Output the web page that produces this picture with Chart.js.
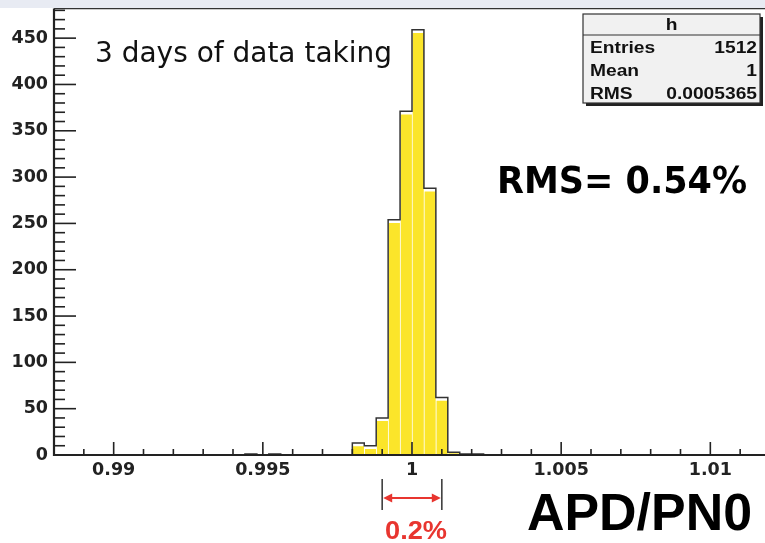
<!DOCTYPE html>
<html>
<head>
<meta charset="utf-8">
<title>APD/PN0</title>
<script src="https://cdn.jsdelivr.net/npm/chart.js@4/dist/chart.umd.min.js"></script>
<style>
  html, body { margin: 0; padding: 0; background: #fff; overflow: hidden; }
  #wrap { width: 770px; height: 543px; }
</style>
</head>
<body>
<div id="wrap"><canvas id="apd" width="770" height="543"></canvas></div>
<script>
// histogram binning
var binLow = 0.988;
var binHigh = 1.012;
var binWidth = 0.0004;

// left edges of the non-empty bins and their contents
var filledBinEdges = [0.9944, 0.9952, 0.998, 0.9984, 0.9988, 0.9992, 0.9996, 1.0, 1.0004, 1.0008, 1.0012, 1.0016, 1.002];
var filledBinCounts = [1, 1, 13, 10, 40, 254, 371, 459, 288, 62, 3, 1, 1];

var xTickValues = [0.99, 0.995, 1, 1.005, 1.01];
var xTickLabels = ["0.99", "0.995", "1", "1.005", "1.01"];
var yTickValues = [0, 50, 100, 150, 200, 250, 300, 350, 400, 450];
var yMax = 482;

var statsTitle = "h";
var statsNames = ["Entries", "Mean", "RMS"];
var statsValues = ["1512", "1", "0.0005365"];

// +-0.1% marker around the mean
var spreadLow = 0.999;
var spreadHigh = 1.001;

function ready() {
  var nBins = Math.round((binHigh - binLow) / binWidth);
  var counts = [];
  for (var i = 0; i < nBins; i++) counts.push(0);
  filledBinEdges.forEach(function (e, k) {
    counts[Math.round((e - binLow) / binWidth)] = filledBinCounts[k];
  });

  var barData = filledBinEdges.map(function (e, k) {
    return { x: e + binWidth / 2, y: filledBinCounts[k] };
  });

  // step outline over the whole range, like ROOT draws it
  var outline = counts.map(function (c, i) {
    return { x: binLow + i * binWidth, y: c };
  });
  outline.push({ x: binHigh, y: counts[nBins - 1] });

  function drawText(ctx, str, x, y, font, color, align, sx) {
    ctx.save();
    ctx.font = font;
    ctx.fillStyle = color;
    ctx.textAlign = align || 'left';
    ctx.textBaseline = 'alphabetic';
    ctx.translate(x, y);
    ctx.scale(sx || 1, 1);
    ctx.fillText(str, 0, 0);
    ctx.restore();
  }

  function fitText(ctx, str, x, y, font, color, width) {
    ctx.save();
    ctx.font = font;
    var w = ctx.measureText(str).width;
    ctx.restore();
    drawText(ctx, str, x, y, font, color, 'left', width / w);
  }

  var frame = {
    id: 'frame',
    afterDatasetsDraw: function (chart) {
      var ctx = chart.ctx, a = chart.chartArea;
      var xs = chart.scales.x, ys = chart.scales.y;
      ctx.save();
      ctx.strokeStyle = '#222';
      ctx.lineWidth = 1.6;
      // x ticks, pointing up into the frame
      for (var k = 988; k <= 1012; k++) {
        var px = xs.getPixelForValue(k / 1000);
        var len = (k % 5 === 0) ? 13 : 6;
        ctx.beginPath();
        ctx.moveTo(px, a.bottom);
        ctx.lineTo(px, a.bottom - len);
        ctx.stroke();
      }
      // y ticks, pointing right into the frame
      for (var m = 0; m <= 480; m += 10) {
        var py = ys.getPixelForValue(m);
        var l2 = (m % 50 === 0) ? 22 : 11;
        ctx.beginPath();
        ctx.moveTo(a.left, py);
        ctx.lineTo(a.left + l2, py);
        ctx.stroke();
      }
      ctx.lineWidth = 2.2;
      ctx.beginPath();
      ctx.moveTo(a.left, a.top);
      ctx.lineTo(a.left, a.bottom);
      ctx.lineTo(a.right, a.bottom);
      ctx.stroke();
      ctx.lineWidth = 1.5;
      ctx.strokeStyle = '#333';
      ctx.beginPath();
      ctx.moveTo(a.left, a.top);
      ctx.lineTo(a.right, a.top);
      ctx.stroke();
      ctx.restore();
    },
    afterDraw: function (chart) {
      var ctx = chart.ctx;
      var xs = chart.scales.x;
      ctx.save();
      ctx.fillStyle = '#e8ebf3';
      ctx.fillRect(0, 0, chart.width, 8);

      // stats box
      var bx = 583, by = 14, bw = 177, bh = 89;
      ctx.fillStyle = '#222';
      ctx.fillRect(bx + 3, by + 3, bw, bh);
      ctx.fillStyle = '#f1f1f1';
      ctx.fillRect(bx, by, bw, bh);
      ctx.strokeStyle = '#333';
      ctx.lineWidth = 1.2;
      ctx.strokeRect(bx, by, bw, bh);
      ctx.beginPath();
      ctx.moveTo(bx, by + 21);
      ctx.lineTo(bx + bw, by + 21);
      ctx.stroke();
      var boxFont = 'bold 16px "Liberation Sans"';
      drawText(ctx, statsTitle, bx + bw / 2, by + 16, boxFont, '#111', 'center', 1.2);
      for (var r = 0; r < statsNames.length; r++) {
        var yy = 53 + r * 23;
        drawText(ctx, statsNames[r], bx + 7, yy, boxFont, '#111', 'left', 1.2);
        drawText(ctx, statsValues[r], bx + bw - 3, yy, boxFont, '#111', 'right', 1.2);
      }

      fitText(ctx, '3 days of data taking', 95, 62, '28px "DejaVu Sans"', '#111', 297);
      fitText(ctx, 'RMS= 0.54%', 497, 193, 'bold 38px "DejaVu Sans"', '#000', 250);
      fitText(ctx, 'APD/PN0', 527, 530, 'bold 52px "Liberation Sans"', '#000', 225);

      // spread marker under the peak
      var x1 = xs.getPixelForValue(spreadLow);
      var x2 = xs.getPixelForValue(spreadHigh);
      ctx.strokeStyle = '#333';
      ctx.lineWidth = 1.5;
      ctx.beginPath();
      ctx.moveTo(x1, 479); ctx.lineTo(x1, 510);
      ctx.moveTo(x2, 479); ctx.lineTo(x2, 510);
      ctx.stroke();
      var red = '#e8352f';
      var ay = 498;
      ctx.strokeStyle = red;
      ctx.fillStyle = red;
      ctx.lineWidth = 2;
      ctx.beginPath();
      ctx.moveTo(x1 + 6, ay); ctx.lineTo(x2 - 6, ay);
      ctx.stroke();
      ctx.beginPath();
      ctx.moveTo(x1 + 1, ay); ctx.lineTo(x1 + 10, ay - 4.5); ctx.lineTo(x1 + 10, ay + 4.5);
      ctx.closePath(); ctx.fill();
      ctx.beginPath();
      ctx.moveTo(x2 - 1, ay); ctx.lineTo(x2 - 10, ay - 4.5); ctx.lineTo(x2 - 10, ay + 4.5);
      ctx.closePath(); ctx.fill();
      fitText(ctx, '0.2%', 385, 539, 'bold 25px "Liberation Sans"', red, 62);
      ctx.restore();
    }
  };

  var tickFont = { family: '"DejaVu Sans"', size: 17.5, weight: 'bold' };

  new Chart(document.getElementById('apd').getContext('2d'), {
    type: 'bar',
    data: {
      datasets: [{
        type: 'line',
        label: 'outline',
        data: outline,
        stepped: 'before',
        borderColor: '#333',
        borderWidth: 1.5,
        pointRadius: 0,
        fill: false,
        order: 0
      }, {
        type: 'bar',
        label: 'h',
        data: barData,
        backgroundColor: '#fbe52a',
        borderColor: '#ffffff',
        borderWidth: { top: 3.5, left: 1, right: 0, bottom: 0 },
        borderSkipped: false,
        barPercentage: 1,
        categoryPercentage: 1,
        order: 1
      }]
    },
    options: {
      responsive: false,
      animation: false,
      devicePixelRatio: 1,
      layout: { padding: { top: 8.5, left: 0, right: 0, bottom: 0 } },
      plugins: { legend: { display: false }, tooltip: { enabled: false } },
      scales: {
        x: {
          type: 'linear',
          offset: false,
          min: binLow,
          max: binHigh,
          grid: { display: false, drawTicks: false, offset: false },
          border: { display: false },
          ticks: {
            font: tickFont,
            color: '#222',
            padding: 5,
            maxRotation: 0,
            callback: function (v, i) { return xTickLabels[i]; }
          },
          afterBuildTicks: function (s) {
            s.ticks = xTickValues.map(function (v) { return { value: v }; });
          },
          afterFit: function (s) {
            s.height = 88;
            s.paddingLeft = 0;
            s.paddingRight = 0;
          }
        },
        y: {
          min: 0,
          max: yMax,
          grid: { display: false, drawTicks: false },
          border: { display: false },
          ticks: {
            font: tickFont,
            color: '#222',
            padding: 6,
            callback: function (v) { return String(v); }
          },
          afterBuildTicks: function (s) {
            s.ticks = yTickValues.map(function (v) { return { value: v }; });
          },
          afterFit: function (s) {
            s.width = 54;
            s.paddingTop = 0;
            s.paddingBottom = 0;
          }
        }
      }
    },
    plugins: [frame]
  });
}

ready();
</script>
</body>
</html>
